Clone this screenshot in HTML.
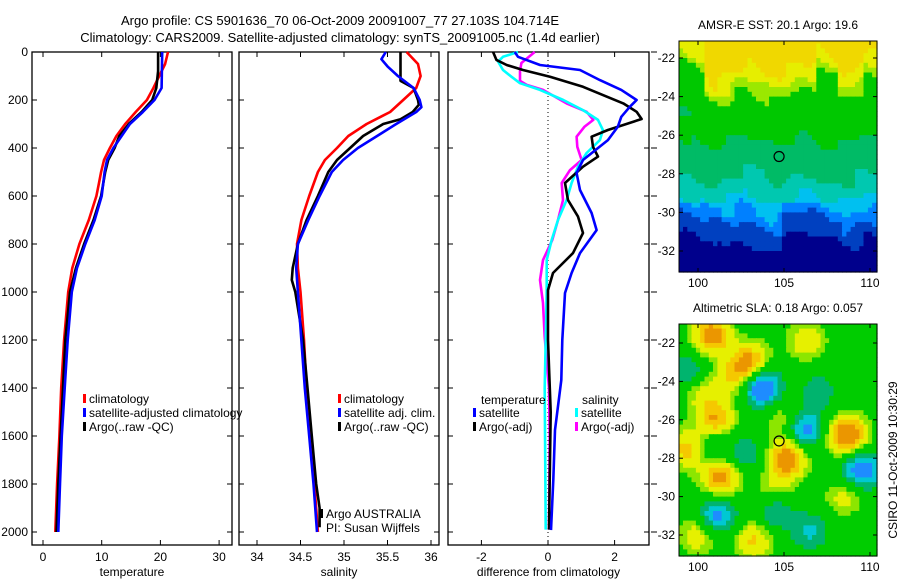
<!DOCTYPE html>
<html><head><meta charset="utf-8"><style>
html,body{margin:0;padding:0;background:#fff}
svg{display:block;font-family:"Liberation Sans",Arial,sans-serif}
text{fill:#000}
</style></head><body>
<svg id="fig" width="900" height="580" viewBox="0 0 900 580">
<g>
<text x="340" y="25" font-size="13" text-anchor="middle">Argo profile: CS 5901636_70 06-Oct-2009 20091007_77 27.103S 104.714E</text>
<text x="340" y="42" font-size="13" text-anchor="middle">Climatology: CARS2009. Satellite-adjusted climatology: synTS_20091005.nc (1.4d earlier)</text>
</g>
<g id="p1"></g>
<g id="p2"></g>
<g id="p3"></g>
<g id="m1"></g>
<g id="m2"></g>
<text x="897" y="460" font-size="12" text-anchor="middle" transform="rotate(-90 897 460)">CSIRO 11-Oct-2009 10:30:29</text>
</svg>
<script>
// ---- data ----
const depthTicks=[0,200,400,600,800,1000,1200,1400,1600,1800,2000];
const tempTicks=[0,10,20,30];
const salTicks=[34,34.5,35,35.5,36];
const diffTicks=[-2,0,2];
const tClimZ=[0,50,100,150,200,250,300,350,400,450,500,550,600,700,800,900,1000,1200,1400,1600,1800,2000];
const tClim=[21.3,20.8,19.8,18.8,17.7,15.8,14.0,12.5,11.4,10.4,9.9,9.5,9.1,7.8,6.2,5.0,4.3,3.6,3.1,2.8,2.4,2.1];
const tArgoZ=[0,80,150,200,250,300,350,400,450,500,600,700,800,900,1000,1200,1400,1600,1800,2000];
const tArgo=[19.6,19.6,19.3,18.6,16.8,14.6,13.0,12.2,11.1,10.6,9.9,8.6,7.0,5.6,4.6,3.8,3.4,3.0,2.6,2.3];
const tSatZ=[0,150,200,250,300,400,450,500,600,700,800,900,1000,1200,1400,1600,1800,2000];
const tSat=[20.3,20.2,19.0,17.0,14.8,12.0,10.9,10.5,10.0,8.8,7.2,5.8,4.9,4.2,3.7,3.2,2.9,2.6];
const sClimZ=[0,50,100,150,200,250,300,350,400,450,500,600,700,800,900,1000,1200,1400,1600,1800,2000];
const sClim=[35.72,35.85,35.88,35.83,35.68,35.53,35.26,35.05,34.92,34.78,34.70,34.60,34.51,34.46,34.47,34.50,34.54,34.57,34.62,34.66,34.70];
const sArgoZ=[0,120,150,200,220,250,280,300,350,400,450,500,600,700,800,900,950,1000,1200,1400,1600,1800,1900,1980];
const sArgo=[35.65,35.65,35.80,35.85,35.86,35.79,35.65,35.45,35.22,35.07,34.92,34.82,34.70,34.57,34.47,34.41,34.40,34.44,34.53,34.58,34.63,34.68,34.72,34.72];
const sSatZ=[0,30,60,100,150,200,230,250,300,350,400,450,500,600,700,800,900,1000,1400,1600,1800,2000];
const sSat=[35.48,35.43,35.50,35.62,35.80,35.87,35.89,35.83,35.60,35.38,35.16,34.99,34.86,34.72,34.59,34.47,34.45,34.47,34.55,34.60,34.65,34.69];
const dTSatZ=[0,20,54,75,117,158,200,228,270,311,367,450,504,575,671,742,838,921,1004,1200,1367,1575,1783,1992];
const dTSat=[-1.0,-0.9,-0.24,0.96,1.56,2.2,2.66,2.46,2.2,2.1,1.8,1.05,0.86,0.96,1.31,1.46,0.96,0.71,0.51,0.43,0.4,0.21,0.16,0.09];
const dTArgoZ=[0,33,54,75,103,145,186,214,249,279,304,325,353,395,436,478,546,617,686,754,838,921,992,1200,1500,1990];
const dTArgo=[-1.65,-1.55,-1.24,-0.75,0.06,1.05,1.76,2.26,2.66,2.81,2.26,1.8,1.31,1.35,1.5,1.05,0.51,0.6,0.9,1.05,0.75,0.15,0.0,0.0,0.08,0.03];
const dSArgoZ=[0,46,80,120,137,158,214,249,283,311,353,395,450,492,546,617,700,783,867,950,1046,1187,1400,1600,1990];
const dSArgo=[-0.4,-0.8,-0.84,-0.84,-0.64,-0.15,0.56,1.16,1.36,1.1,0.86,0.88,1.01,0.66,0.41,0.45,0.3,0.13,-0.15,-0.24,-0.15,-0.1,0.03,0.05,0.03];
const dSSatZ=[0,20,40,75,103,130,158,200,242,283,325,367,421,478,546,617,700,783,867,992,1200,1400,1990];
const dSSat=[-0.9,-1.35,-1.5,-1.35,-1.1,-0.84,-0.24,0.46,1.05,1.5,1.65,1.56,1.16,0.9,0.71,0.56,0.3,0.11,-0.04,-0.04,-0.07,-0.1,-0.07];

const NS='http://www.w3.org/2000/svg';
function mk(tag,attrs,parent){const e=document.createElementNS(NS,tag);for(const k in attrs)e.setAttribute(k,attrs[k]);if(parent)parent.appendChild(e);return e;}
const Y0=52,PXM=0.24;
const yS=d=>Y0+d*PXM;
const P1={l:32,r:232,t:Y0,b:545,x0:0,xpx:43,k:5.87};
const P2={l:239,r:439,t:Y0,b:545,x0:34,xpx:257,k:87};
const P3={l:448,r:649,t:Y0,b:545,x0:0,xpx:548,k:33.3};
const xf=P=>v=>P.xpx+(v-P.x0)*P.k;

function frame(P,g,xt,fmt,ylabels,xlabel){
  const r=mk('rect',{x:P.l,y:P.t,width:P.r-P.l,height:P.b-P.t,fill:'none',stroke:'#000','stroke-width':1.3},g);
  
  
  const X=xf(P);
  xt.forEach(v=>{const x=X(v);
    mk('line',{x1:x,x2:x,y1:P.b,y2:P.b-5,stroke:'#000'},g);
    mk('line',{x1:x,x2:x,y1:P.t,y2:P.t+5,stroke:'#000'},g);
    const t=mk('text',{x:x,y:P.b+16,'font-size':12,'text-anchor':'middle'},g);t.textContent=fmt(v);
    
    
  });
  depthTicks.forEach(d=>{const y=yS(d);
    mk('line',{x1:P.l,x2:P.l+5,y1:y,y2:y,stroke:'#000'},g);
    mk('line',{x1:P.r,x2:P.r-5,y1:y,y2:y,stroke:'#000'},g);
    if(ylabels){const t=mk('text',{x:P.l-4,y:y+4,'font-size':12,'text-anchor':'end'},g);t.textContent=d;
      
      }
  });
  const t=mk('text',{x:(P.l+P.r)/2,y:576,'font-size':12,'text-anchor':'middle'},g);t.textContent=xlabel;
  
  
}
function line(P,g,zs,vs,col,name,w){
  const X=xf(P);
  const pts=zs.map((z,i)=>X(vs[i]).toFixed(1)+','+yS(z).toFixed(1)).join(' ');
  const p=mk('polyline',{points:pts,fill:'none',stroke:col,'stroke-width':w||2.6,'stroke-linejoin':'round'},g);
  
  
}
function legend(g,x,y,col,label,name){
  mk('rect',{x:x,y:y-5,width:3,height:9,fill:col},g);
  const t=mk('text',{x:x+6,y:y+4,'font-size':12},g);t.textContent=label;
  
  
}
const g1=document.getElementById('p1'),g2=document.getElementById('p2'),g3=document.getElementById('p3');
frame(P1,g1,tempTicks,v=>v,true,'temperature');
frame(P2,g2,salTicks,v=>v,false,'salinity');
frame(P3,g3,diffTicks,v=>v,false,'difference from climatology');
depthTicks.forEach(d=>mk('line',{x1:651,x2:657,y1:yS(d),y2:yS(d),stroke:'#000'},g3));
line(P1,g1,tClimZ,tClim,'#f00','temp-climatology-line');
line(P1,g1,tArgoZ,tArgo,'#000','temp-argo-line');
line(P1,g1,tSatZ,tSat,'#00f','temp-satellite-line');
line(P2,g2,sClimZ,sClim,'#f00','sal-climatology-line');
line(P2,g2,sArgoZ,sArgo,'#000','sal-argo-line');
line(P2,g2,sSatZ,sSat,'#00f','sal-satellite-line');
const zx=xf(P3)(0);
const zl=mk('line',{x1:zx,x2:zx,y1:P3.t,y2:P3.b,stroke:'#000','stroke-width':1,'stroke-dasharray':'1,3'},g3);


line(P3,g3,dSArgoZ,dSArgo,'#f0f','diff-sal-argo-line');
line(P3,g3,dSSatZ,dSSat,'#0ff','diff-sal-satellite-line');
line(P3,g3,dTArgoZ,dTArgo,'#000','diff-temp-argo-line');
line(P3,g3,dTSatZ,dTSat,'#00f','diff-temp-satellite-line');
legend(g1,83,399,'#f00','climatology','legend-climatology');
legend(g1,83,413,'#00f','satellite-adjusted climatology','legend-satellite');
legend(g1,83,427,'#000','Argo(..raw -QC)','legend-argo');
legend(g2,338,399,'#f00','climatology','legend-climatology');
legend(g2,338,413,'#00f','satellite adj. clim.','legend-satellite');
legend(g2,338,427,'#000','Argo(..raw -QC)','legend-argo');
legend(g2,320,514,'#000','Argo AUSTRALIA','argo-australia-label');
{const t=mk('text',{x:326,y:532,'font-size':12},g2);t.textContent='PI: Susan Wijffels';
 
 }
{const t=mk('text',{x:481,y:404,'font-size':12},g3);t.textContent='temperature';
 
 }
{const t=mk('text',{x:582,y:404,'font-size':12},g3);t.textContent='salinity';
 
 }
legend(g3,473,413,'#00f','satellite','legend-temp-satellite');
legend(g3,473,427,'#000','Argo(-adj)','legend-temp-argo');
legend(g3,575,413,'#0ff','satellite','legend-sal-satellite');
legend(g3,575,427,'#f0f','Argo(-adj)','legend-sal-argo');

// ---- maps ----
const lonTicks=[100,105,110];
const latTicks=[-22,-24,-26,-28,-30,-32];
const argoLon=104.714, argoLat=-27.103;
const slaBlobs=[[100.8,-21.6,0.95],[103,-23,0.85],[101,-26,0.8],[99.5,-27.5,0.75],[101.3,-29,0.9],[105.2,-28,1.0],[108.7,-26.8,1.15],[103.2,-32.3,0.6],[106.3,-21.9,0.5],[100,-32,0.5],[108.5,-30,0.4],[104.5,-29.5,0.35],[102,-23.8,0.5],[100.2,-24.5,0.4],[105,-26,0.35],
 [103.7,-24.3,-1.0],[106.2,-26.5,-0.8],[109.5,-28.6,-0.9],[101.1,-31,-0.75],[106.5,-31.8,-0.45],[104.5,-30.8,-0.45],[99.5,-23.5,-0.45],[107,-24.5,-0.35],[102.8,-27.8,-0.4],[100.6,-27.3,-0.45]];
function drawMap(gid,top,bot,title,field,cmap,name){
  const g=document.getElementById(gid);
  const L=679,R=877;
  const lonX=lo=>698+(lo-100)*17.2;
  const lat22=(gid==='m1')?58:343, lat32=(gid==='m1')?251:535;
  const k=(lat32-lat22)/10;
  const latY=la=>lat22+(-22-la)*k;
  const lat0=-22-(top-lat22)/k, lat1=-22-(bot-lat22)/k;
  const d=0.25;
  for(let la=Math.ceil(lat0/d)*d+0; la>lat1-d; la-=d){
    for(let lo=98.875; lo<110.5; lo+=d){
      const x=Math.max(L,lonX(lo)), x2=Math.min(R,lonX(lo+d));
      const y=Math.max(top,latY(la)), y2=Math.min(bot,latY(la-d));
      if(x2<=x||y2<=y)continue;
      mk('rect',{x:x.toFixed(1),y:y.toFixed(1),width:(x2-x+0.6).toFixed(1),height:(y2-y+0.6).toFixed(1),fill:cmap(field(lo+d/2,la-d/2))},g);
    }
  }
  const fr=mk('rect',{x:L,y:top,width:R-L,height:bot-top,fill:'none',stroke:'#000'},g);
  
  
  const c=mk('circle',{cx:lonX(argoLon),cy:latY(argoLat),r:5,fill:'none',stroke:'#000','stroke-width':1.2},g);
  
  
  lonTicks.forEach(v=>{const x=lonX(v);mk('line',{x1:x,x2:x,y1:bot,y2:bot-4,stroke:'#000'},g);mk('line',{x1:x,x2:x,y1:top,y2:top+4,stroke:'#000'},g);
    const t=mk('text',{x:x,y:bot+15,'font-size':12,'text-anchor':'middle'},g);t.textContent=v;
    
    });
  latTicks.forEach(v=>{const y=latY(v);mk('line',{x1:L,x2:L+4,y1:y,y2:y,stroke:'#000'},g);mk('line',{x1:R,x2:R-4,y1:y,y2:y,stroke:'#000'},g);
    const t=mk('text',{x:L-4,y:y+4,'font-size':12,'text-anchor':'end'},g);t.textContent=v;
    
    });
  const t=mk('text',{x:(L+R)/2,y:top-12,'font-size':12,'text-anchor':'middle'},g);t.textContent=title;
  
  
}
function sstField(lo,la){
  let w=0.6*Math.sin(lo*1.7)+0.4*Math.sin(lo*3.1+la*2.3)+0.3*Math.cos(la*4.1+lo*0.9);
  if(la>-25){ if(lo<100.4) w-=3.0; if(lo>106.8&&lo<108.2) w-=2.2; if(lo>100.6&&lo<102.2) w+=0.9; if(lo>109.6) w-=1.5;}
  if(la<-29.5){ if(lo<101.5||(lo>104.8&&lo<108.5)) w-=1.2; }
  if(la<-27.5&&la>-29&&lo>102.5&&lo<103.8) w-=1.0;
  return la+w*0.5;
}
function sstCmap(v){
  if(v>-22.6) return '#f0d800';
  if(v>-23.3) return '#e6ee00';
  if(v>-23.9) return '#9be800';
  if(v>-26.3) return '#00c800';
  if(v>-28.3) return '#00bb66';
  if(v>-29.3) return '#00c8b0';
  if(v>-30.0) return '#00c0f0';
  if(v>-30.8) return '#0080ff';
  if(v>-31.7) return '#0040c0';
  return '#00008c';
}
function slaField(lo,la){
  let s=0.0;
  slaBlobs.forEach(b=>{const dx=(lo-b[0])/1.1,dy=(la-b[1])/1.0;s+=b[2]*Math.exp(-(dx*dx+dy*dy));});
  return s;
}
function slaCmap(v){
  if(v<-0.6) return '#1e8cff';
  if(v<-0.4) return '#00c8d2';
  if(v<-0.2) return '#00b46e';
  if(v<0.15) return '#00cc00';
  if(v<0.3) return '#8ce600';
  if(v<0.55) return '#e6f000';
  if(v<0.75) return '#f5c800';
  return '#eb9600';
}
drawMap('m1',41,272,'AMSR-E SST: 20.1 Argo: 19.6',sstField,sstCmap,'sst-map');
drawMap('m2',324,556,'Altimetric SLA: 0.18 Argo: 0.057',slaField,slaCmap,'sla-map');
</script>
</body></html>
